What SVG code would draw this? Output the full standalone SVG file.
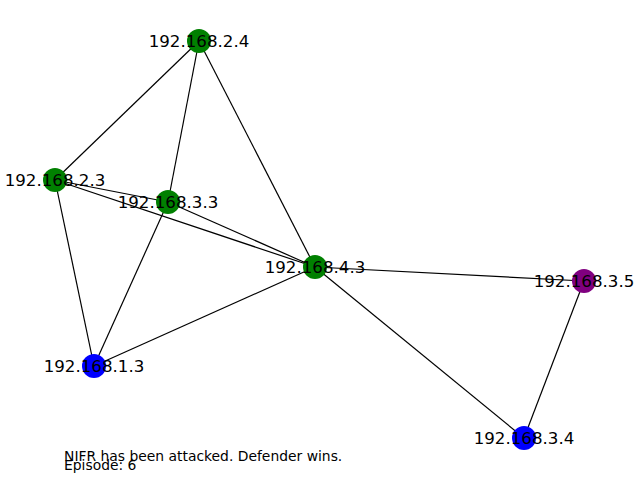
<svg xmlns="http://www.w3.org/2000/svg" width="640" height="480" viewBox="0 0 640 480">
<style>
.edge{stroke:#000;stroke-width:1.2;fill:none}
.lbl{font-family:"DejaVu Sans",sans-serif;font-size:16.67px;fill:#000;text-anchor:middle}
.cap{font-family:"DejaVu Sans",sans-serif;font-size:13.89px;fill:#000}
.g{fill:#008000}.b{fill:#0000ff}.p{fill:#800080}
</style>
<rect width="640" height="480" fill="#fff"/>
<g id="edges">
<line class="edge" x1="199" y1="41" x2="55" y2="180"/>
<line class="edge" x1="199" y1="41" x2="168" y2="202"/>
<line class="edge" x1="199" y1="41" x2="315" y2="267"/>
<line class="edge" x1="55" y1="180" x2="168" y2="202"/>
<line class="edge" x1="55" y1="180" x2="315" y2="267"/>
<line class="edge" x1="55" y1="180" x2="94" y2="366"/>
<line class="edge" x1="168" y1="202" x2="315" y2="267"/>
<line class="edge" x1="168" y1="202" x2="94" y2="366"/>
<line class="edge" x1="315" y1="267" x2="94" y2="366"/>
<line class="edge" x1="315" y1="267" x2="584" y2="281"/>
<line class="edge" x1="315" y1="267" x2="524" y2="438"/>
<line class="edge" x1="584" y1="281" x2="524" y2="438"/>
</g>
<g id="n-192.168.2.4"><circle class="g" cx="199" cy="41" r="12"/><text class="lbl" x="199" y="47">192.168.2.4</text></g>
<g id="n-192.168.2.3"><circle class="g" cx="55" cy="180" r="12"/><text class="lbl" x="55" y="186">192.168.2.3</text></g>
<g id="n-192.168.3.3"><circle class="g" cx="168" cy="202" r="12"/><text class="lbl" x="168" y="208">192.168.3.3</text></g>
<g id="n-192.168.4.3"><circle class="g" cx="315" cy="267" r="12"/><text class="lbl" x="315" y="273">192.168.4.3</text></g>
<g id="n-192.168.3.5"><circle class="p" cx="584" cy="281" r="12"/><text class="lbl" x="584" y="287">192.168.3.5</text></g>
<g id="n-192.168.1.3"><circle class="b" cx="94" cy="366" r="12"/><text class="lbl" x="94" y="372">192.168.1.3</text></g>
<g id="n-192.168.3.4"><circle class="b" cx="524" cy="438" r="12"/><text class="lbl" x="524" y="444">192.168.3.4</text></g>
<text class="cap" x="64" y="461">NIFR has been attacked. Defender wins.</text>
<text class="cap" x="64" y="470">Episode: 6</text>
</svg>
